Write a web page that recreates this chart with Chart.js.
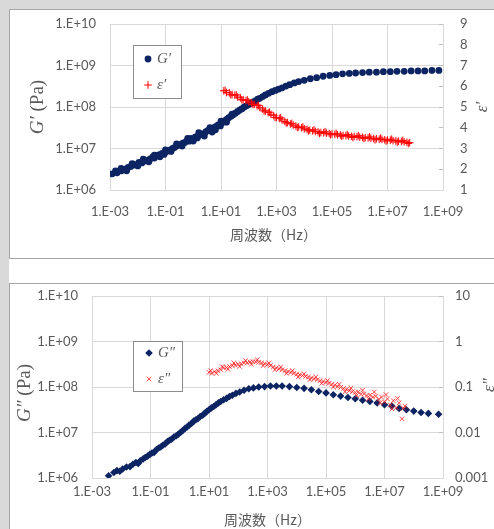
<!DOCTYPE html>
<html>
<head>
<meta charset="utf-8">
<script src="https://cdn.jsdelivr.net/npm/chart.js@4.4.1/dist/chart.umd.min.js"></script>
<style>
  html, body { margin: 0; padding: 0; background: #d9d9d9; width: 494px; height: 529px; overflow: hidden; position: relative; }
  .panel { position: absolute; background: #fff; box-sizing: border-box; border: 0 solid #a6a6a6; }
  #p1 { left: 9px; top: 9px; width: 485px; height: 250px; border-width: 1px 0 1px 1px; }
  #gap { left: 9px; top: 259px; width: 485px; height: 24px; }
  #p2 { left: 9px; top: 283px; width: 485px; height: 246px; border-width: 1px 0 0 1px; }
  canvas { display: block; }
</style>
</head>
<body>
<div class="panel" id="p1"><canvas id="storageChart" width="484" height="248"></canvas></div>
<div class="panel" id="gap"></div>
<div class="panel" id="p2"><canvas id="lossChart" width="484" height="245"></canvas></div>
<script>
// axis ticks
const freqTicks = [1e-3, 1e-1, 1e1, 1e3, 1e5, 1e7, 1e9];
const freqTickLabels = ["1.E-03", "1.E-01", "1.E+01", "1.E+03", "1.E+05", "1.E+07", "1.E+09"];
const modTicks = [1e6, 1e7, 1e8, 1e9, 1e10];
const modTickLabels = ["1.E+06", "1.E+07", "1.E+08", "1.E+09", "1.E+10"];
const epsLossTicks = [0.001, 0.01, 0.1, 1, 10];
const epsLossTickLabels = ["0.001", "0.01", "0.1", "1", "10"];
const xTitle = "周波数（Hz）";

// G' (Pa) vs frequency (Hz)
const gpFreq = [1.2e-3,1.8e-3,2.6e-3,3.5e-3,4.5e-3,5.6e-3,7.1e-3,8.9e-3,1.1e-2,1.4e-2,
  1.8e-2,2.2e-2,2.8e-2,3.5e-2,4.0e-2,5.0e-2,6.0e-2,7.6e-2,8.9e-2,1.05e-1,
  1.26e-1,1.5e-1,1.8e-1,2.1e-1,2.5e-1,3.0e-1,3.5e-1,4.2e-1,5.0e-1,6.0e-1,
  7.1e-1,8.3e-1,1.0,1.2,1.4,1.66,2.0,2.4,2.8,3.3,
  4.0,4.8,5.6,6.6,7.9,9.5,1.1e1,1.3e1,1.6e1,1.9e1,
  2.3e1,2.75e1,3.3e1,4.0e1,4.8e1,5.75e1,6.9e1,8.3e1,1.0e2,1.2e2,
  1.45e2,1.74e2,2.1e2,2.5e2,3.2e2,4.0e2,5.2e2,6.9e2,9.1e2,1.2e3,
  1.6e3,2.2e3,3.0e3,4.4e3,6.3e3,1.0e4,1.66e4,2.8e4,4.8e4,8.3e4,
  1.4e5,2.4e5,4.2e5,7.1e5,1.26e6,2.2e6,4.0e6,7.1e6,1.26e7,2.2e7,
  4.0e7,7.1e7,1.26e8,2.2e8,4.0e8,7.1e8,
  // second measurement run
  1.58e-3,2.51e-3,3.98e-3,6.31e-3,1.0e-2,1.58e-2,2.51e-2,3.98e-2,6.31e-2,1.0e-1,
  1.58e-1,2.51e-1,3.98e-1,6.31e-1,1.0,1.58,2.51,3.98,6.31,1.0e1,
  1.58e1,2.51e1];
const gpVal = [2.45e6,2.6e6,2.9e6,3.2e6,3.5e6,3.7e6,4.0e6,4.1e6,4.6e6,4.5e6,
  5.0e6,5.2e6,5.6e6,6.3e6,5.9e6,6.8e6,7.1e6,7.6e6,7.2e6,8.3e6,
  8.9e6,9.3e6,1.0e7,1.05e7,1.15e7,1.2e7,1.26e7,1.35e7,1.4e7,1.55e7,
  1.5e7,1.75e7,1.65e7,1.9e7,1.8e7,2.1e7,2.25e7,2.15e7,2.5e7,2.7e7,
  2.8e7,2.5e7,3.2e7,3.4e7,3.7e7,3.5e7,4.2e7,4.6e7,5.0e7,5.5e7,
  6.0e7,6.5e7,7.1e7,7.8e7,8.5e7,9.1e7,1.0e8,1.07e8,1.15e8,1.23e8,
  1.32e8,1.41e8,1.55e8,1.62e8,1.78e8,1.95e8,2.14e8,2.34e8,2.51e8,2.7e8,
  2.9e8,3.2e8,3.45e8,3.8e8,4.1e8,4.4e8,4.8e8,5.1e8,5.5e8,5.75e8,
  6.0e8,6.3e8,6.45e8,6.6e8,6.75e8,6.9e8,6.9e8,7.1e8,7.1e8,7.25e8,
  7.25e8,7.4e8,7.4e8,7.4e8,7.6e8,7.6e8,
  2.9e6,3.3e6,2.9e6,4.3e6,3.8e6,5.5e6,4.8e6,6.9e6,6.3e6,9.3e6,
  8.5e6,1.29e7,1.15e7,1.74e7,1.51e7,2.4e7,2.0e7,3.16e7,2.82e7,4.57e7,
  4.3e7,6.76e7];

// eps' vs frequency (Hz)
const epsPFreq = [1.26e1,1.58e1,2.0e1,2.51e1,3.16e1,3.98e1,5.01e1,6.31e1,7.94e1,
  1e2,1.26e2,1.58e2,2.0e2,2.51e2,3.16e2,3.98e2,5.01e2,6.31e2,7.94e2,
  1e3,1.26e3,1.58e3,2.0e3,2.51e3,3.16e3,3.98e3,5.01e3,6.31e3,7.94e3,
  1e4,1.26e4,1.58e4,2.0e4,2.51e4,3.16e4,3.98e4,5.01e4,6.31e4,7.94e4,
  1e5,1.26e5,1.58e5,2.0e5,2.51e5,3.16e5,3.98e5,5.01e5,6.31e5,7.94e5,
  1e6,1.26e6,1.58e6,2.0e6,2.51e6,3.16e6,3.98e6,5.01e6,6.31e6,7.94e6,
  1e7,1.26e7,1.58e7,2.0e7,2.51e7,3.16e7,3.98e7,5.01e7,6.31e7,
  // second run
  1.41e1,2.24e1,3.55e1,5.62e1,8.91e1,1.41e2,2.24e2,3.55e2,5.62e2,8.91e2,
  1.41e3,2.24e3,3.55e3,5.62e3,8.91e3,1.41e4,2.24e4,3.55e4,5.62e4,8.91e4,
  1.41e5,2.24e5,3.55e5,5.62e5,8.91e5,1.41e6,2.24e6,3.55e6,5.62e6,8.91e6,
  1.41e7,2.24e7,3.55e7,5.62e7];
const epsPVal = [5.78,5.70,5.68,5.60,5.57,5.48,5.44,5.35,5.31,
  5.25,5.20,5.13,5.06,4.98,4.90,4.81,4.73,4.65,4.58,
  4.50,4.45,4.38,4.30,4.25,4.18,4.13,4.08,4.04,4.00,
  3.95,3.92,3.88,3.85,3.82,3.80,3.77,3.76,3.74,3.72,
  3.70,3.68,3.66,3.65,3.63,3.62,3.60,3.59,3.58,3.57,
  3.55,3.54,3.52,3.51,3.50,3.48,3.47,3.45,3.44,3.42,
  3.41,3.40,3.38,3.37,3.35,3.34,3.32,3.30,3.28,
  5.80,5.59,5.58,5.35,5.34,5.12,5.08,4.81,4.75,4.49,
  4.48,4.23,4.21,4.01,4.04,3.85,3.90,3.73,3.81,3.66,
  3.73,3.59,3.67,3.53,3.62,3.48,3.56,3.42,3.50,3.36,
  3.45,3.31,3.39,3.24];

// G'' (Pa) vs frequency (Hz)
const gppFreq = [3.7e-3,5.6e-3,7.1e-3,8.9e-3,1.12e-2,1.51e-2,2.0e-2,2.51e-2,3.16e-2,3.8e-2,
  4.47e-2,5.62e-2,6.6e-2,7.94e-2,9.55e-2,1.12e-1,1.32e-1,1.58e-1,1.9e-1,2.24e-1,
  2.63e-1,3.16e-1,3.8e-1,4.47e-1,5.25e-1,6.31e-1,7.59e-1,8.91e-1,1.05,1.26,
  1.51,1.78,2.09,2.51,3.02,3.55,4.17,5.01,6.03,7.08,
  8.32,1.0e1,1.2e1,1.45e1,1.74e1,2.09e1,2.51e1,3.16e1,3.98e1,5.01e1,
  6.31e1,8.32e1,1.12e2,1.58e2,2.29e2,3.31e2,5.01e2,7.94e2,1.26e3,2.0e3,
  3.16e3,5.62e3,1.0e4,1.78e4,3.16e4,5.62e4,1.0e5,1.78e5,3.16e5,5.62e5,
  1.0e6,1.78e6,3.16e6,5.62e6,1.0e7,1.78e7,3.16e7,5.62e7,1.0e8,1.78e8,
  3.16e8,7.08e8];
const gppVal = [1.12e6,1.32e6,1.45e6,1.41e6,1.58e6,1.74e6,1.78e6,2.0e6,2.19e6,2.09e6,
  2.4e6,2.63e6,2.82e6,3.02e6,3.31e6,3.55e6,3.63e6,4.17e6,4.57e6,4.79e6,
  5.25e6,5.62e6,6.31e6,6.76e6,7.08e6,7.94e6,8.51e6,9.12e6,1.0e7,1.1e7,
  1.23e7,1.32e7,1.45e7,1.58e7,1.78e7,1.91e7,2.0e7,2.24e7,2.4e7,2.63e7,
  2.88e7,3.16e7,3.47e7,3.72e7,4.07e7,4.47e7,4.79e7,5.25e7,5.62e7,6.17e7,
  6.61e7,7.24e7,7.76e7,8.51e7,9.12e7,9.55e7,1.0e8,1.02e8,1.05e8,1.05e8,
  1.05e8,1.02e8,9.77e7,9.33e7,8.71e7,7.94e7,7.41e7,6.76e7,6.31e7,5.89e7,
  5.5e7,5.13e7,4.79e7,4.47e7,4.07e7,3.8e7,3.39e7,3.16e7,2.95e7,2.75e7,
  2.63e7,2.51e7];

// eps'' vs frequency (Hz)
const epsPPFreq = [1e1,1.26e1,1.58e1,2.0e1,2.51e1,3.16e1,3.98e1,5.01e1,6.31e1,7.94e1,
  1e2,1.26e2,1.58e2,2.0e2,2.51e2,3.16e2,3.98e2,5.01e2,6.31e2,7.94e2,
  1e3,1.26e3,1.58e3,2.0e3,2.51e3,3.16e3,3.98e3,5.01e3,6.31e3,7.94e3,
  1e4,1.26e4,1.58e4,2.0e4,2.51e4,3.16e4,3.98e4,5.01e4,6.31e4,7.94e4,
  1e5,1.26e5,1.58e5,2.0e5,2.51e5,3.16e5,3.98e5,5.01e5,6.31e5,7.94e5,
  1e6,1.26e6,1.58e6,2.0e6,2.51e6,3.16e6,3.98e6,5.01e6,6.31e6,7.94e6,
  1e7,1.26e7,1.58e7,2.0e7,2.51e7,3.16e7,3.98e7,5.01e7,
  // second run
  1.12e1,1.78e1,2.82e1,4.47e1,7.08e1,1.12e2,1.78e2,2.82e2,4.47e2,7.08e2,
  1.12e3,1.78e3,2.82e3,4.47e3,7.08e3,1.12e4,1.78e4,2.82e4,4.47e4,7.08e4,
  1.12e5,1.78e5,2.82e5,4.47e5,7.08e5,1.12e6,1.78e6,2.82e6,4.47e6,7.08e6,
  1.12e7,1.78e7,2.82e7,4.47e7];
const epsPPVal = [0.209,0.200,0.219,0.229,0.240,0.263,0.269,0.282,0.295,0.302,
  0.316,0.324,0.339,0.339,0.355,0.363,0.355,0.347,0.339,0.324,
  0.309,0.295,0.275,0.263,0.251,0.240,0.229,0.219,0.209,0.200,
  0.191,0.186,0.178,0.170,0.166,0.158,0.151,0.145,0.138,0.132,
  0.126,0.120,0.115,0.110,0.102,0.098,0.093,0.089,0.083,0.079,
  0.076,0.078,0.069,0.071,0.065,0.066,0.060,0.063,0.054,0.060,
  0.047,0.055,0.040,0.050,0.035,0.045,0.020,0.038,
  0.229,0.200,0.282,0.245,0.339,0.282,0.380,0.316,0.398,0.295,
  0.339,0.240,0.275,0.200,0.229,0.166,0.195,0.145,0.166,0.120,
  0.138,0.100,0.115,0.079,0.095,0.065,0.085,0.055,0.078,0.045,
  0.068,0.033,0.056,0.034];

const NAVY = "#0d2463";
const RED = "#ff0000";
const TXT = "#595959";
const GRID = "#d9d9d9";
const SERIF = '"Liberation Serif", "DejaVu Serif", serif';

Chart.defaults.font.family = "Lato";
Chart.defaults.color = TXT;

const pts = (xs, ys) => xs.map((x, i) => ({ x: x, y: ys[i] }));

// rotated / mixed-font titles
function drawRich(ctx, parts, x, y) {
  ctx.save();
  ctx.translate(x, y);
  ctx.rotate(-Math.PI / 2);
  let total = 0;
  parts.forEach(p => { ctx.font = p.font; total += ctx.measureText(p.text).width; });
  let cx = -total / 2;
  ctx.textAlign = "left";
  ctx.textBaseline = "middle";
  parts.forEach(p => { ctx.font = p.font; ctx.fillText(p.text, cx, 0); cx += ctx.measureText(p.text).width; });
  ctx.restore();
}

const titlesPlugin = {
  id: "sideTitles",
  afterDraw(chart, args, o) {
    const ctx = chart.ctx, a = chart.chartArea;
    ctx.save();
    ctx.fillStyle = TXT;
    ctx.font = '14px "Noto Sans CJK JP"';
    ctx.textAlign = "center";
    ctx.textBaseline = "middle";
    ctx.fillText(xTitle, (a.left + a.right) / 2 + o.xShift, a.bottom + o.xGap);
    drawRich(ctx, o.left, a.left - o.leftGap, (a.top + a.bottom) / 2 + o.leftShift);
    drawRich(ctx, o.right, a.right + o.rightGap, (a.top + a.bottom) / 2 + o.rightShift);
    ctx.restore();
  }
};

const legendPlugin = {
  id: "boxLegend",
  afterDraw(chart, args, o) {
    const ctx = chart.ctx, a = chart.chartArea;
    const bx = a.left + o.dx, by = a.top + o.dy;
    ctx.save();
    ctx.fillStyle = "#fff";
    ctx.fillRect(bx, by, o.w, o.h);
    ctx.strokeStyle = "#8c8c8c";
    ctx.lineWidth = 1;
    ctx.strokeRect(bx + 0.5, by + 0.5, o.w, o.h);
    o.items.forEach((it, i) => {
      const ds = chart.data.datasets[it.ds];
      const y = by + o.rows[i];
      ctx.fillStyle = ds.backgroundColor;
      ctx.strokeStyle = ds.borderColor;
      ctx.lineWidth = ds.borderWidth;
      Chart.helpers.drawPoint(ctx, { pointStyle: ds.pointStyle, radius: ds.pointRadius, rotation: 0, borderWidth: ds.borderWidth }, bx + o.mx, y);
      ctx.fillStyle = TXT;
      ctx.font = "italic 15px " + SERIF;
      ctx.textAlign = "left";
      ctx.textBaseline = "middle";
      ctx.fillText(it.text, bx + o.tx, y);
    });
    ctx.restore();
  }
};

// fixed axis boxes; drop the label overhang padding so the plot area stays put
function fixW(w) { return s => { s.width = w; s.paddingTop = 0; s.paddingBottom = 0; }; }

function xScale(h, pad) {
  return {
    type: "logarithmic", position: "bottom", min: 1e-3, max: 1e9,
    afterBuildTicks: s => { s.ticks = freqTicks.map(v => ({ value: v })); },
    afterFit: s => { s.height = h; s.paddingLeft = 0; s.paddingRight = 0; },
    ticks: { callback: (v, i) => freqTickLabels[i], color: TXT, font: { size: 13 }, padding: pad, maxRotation: 0, autoSkip: false },
    grid: { color: GRID, drawTicks: false },
    border: { color: GRID }
  };
}

function yScale(w) {
  return {
    type: "logarithmic", position: "left", min: 1e6, max: 1e10,
    afterBuildTicks: s => { s.ticks = modTicks.map(v => ({ value: v })); },
    afterFit: fixW(w),
    ticks: { callback: (v, i) => modTickLabels[i], color: TXT, font: { size: 13 }, padding: 14 },
    grid: { color: GRID, drawTicks: false },
    border: { color: GRID }
  };
}

// top chart: G' and eps'
new Chart(document.getElementById("storageChart"), {
  type: "scatter",
  data: {
    datasets: [
      { label: "\u03b5\u2032", data: pts(epsPFreq, epsPVal), yAxisID: "y2", pointStyle: "cross",
        pointRadius: 3.8, borderWidth: 1, borderColor: RED, backgroundColor: RED },
      { label: "G\u2032", data: pts(gpFreq, gpVal), yAxisID: "y", pointStyle: "circle",
        pointRadius: 3.4, borderWidth: 0, borderColor: NAVY, backgroundColor: NAVY }
    ]
  },
  options: {
    responsive: false, animation: false, events: [],
    layout: { padding: { top: 14 } },
    scales: {
      x: xScale(68, 14),
      y: yScale(100),
      y2: {
        type: "linear", position: "right", min: 1, max: 9,
        afterFit: fixW(51),
        ticks: { stepSize: 1, color: TXT, font: { size: 13 }, padding: 21 },
        grid: { drawOnChartArea: false, drawTicks: true, tickLength: -4, color: "#bfbfbf" },
        border: { color: GRID }
      }
    },
    plugins: {
      legend: { display: false }, tooltip: { enabled: false },
      sideTitles: {
        xShift: -3, xGap: 45, leftGap: 72, leftShift: 0, rightGap: 40, rightShift: 0,
        left: [{ text: "G\u2032", font: "italic 19px " + SERIF }, { text: " (Pa)", font: "19px " + SERIF }],
        right: [{ text: "\u03b5\u2032", font: "italic 17px " + SERIF }]
      },
      boxLegend: { dx: 23, dy: 21, w: 48, h: 53, mx: 15, tx: 24, rows: [14, 40],
        items: [{ ds: 1, text: "G\u2032" }, { ds: 0, text: "\u03b5\u2032" }] }
    }
  },
  plugins: [titlesPlugin, legendPlugin]
});

// bottom chart: G'' and eps''
new Chart(document.getElementById("lossChart"), {
  type: "scatter",
  data: {
    datasets: [
      { label: "\u03b5\u2033", data: pts(epsPPFreq, epsPPVal), yAxisID: "y2", pointStyle: "crossRot",
        pointRadius: 3.2, borderWidth: 1, borderColor: "rgba(255,30,30,0.8)", backgroundColor: "rgba(255,30,30,0.8)" },
      { label: "G\u2033", data: pts(gppFreq, gppVal), yAxisID: "y", pointStyle: "rectRot",
        pointRadius: 3.8, borderWidth: 0, borderColor: NAVY, backgroundColor: NAVY }
    ]
  },
  options: {
    responsive: false, animation: false, events: [],
    layout: { padding: { top: 12 } },
    scales: {
      x: xScale(51, 6),
      y: yScale(82),
      y2: {
        type: "logarithmic", position: "right", min: 0.001, max: 10,
        afterBuildTicks: s => { s.ticks = epsLossTicks.map(v => ({ value: v })); },
        afterFit: fixW(51),
        ticks: { callback: (v, i) => epsLossTickLabels[i], color: TXT, font: { size: 13 }, padding: 16 },
        grid: { drawOnChartArea: false, drawTicks: true, tickLength: -4, color: "#bfbfbf" },
        border: { color: GRID }
      }
    },
    plugins: {
      legend: { display: false }, tooltip: { enabled: false },
      sideTitles: {
        xShift: 0, xGap: 42, leftGap: 67, leftShift: 6, rightGap: 47, rightShift: -2,
        left: [{ text: "G\u2033", font: "italic 19px " + SERIF }, { text: " (Pa)", font: "19px " + SERIF }],
        right: [{ text: "\u03b5\u2033", font: "italic 17px " + SERIF }]
      },
      boxLegend: { dx: 41, dy: 45, w: 49, h: 50, mx: 16, tx: 25, rows: [12, 38],
        items: [{ ds: 1, text: "G\u2033" }, { ds: 0, text: "\u03b5\u2033" }] }
    }
  },
  plugins: [titlesPlugin, legendPlugin]
});
</script>
</body>
</html>
